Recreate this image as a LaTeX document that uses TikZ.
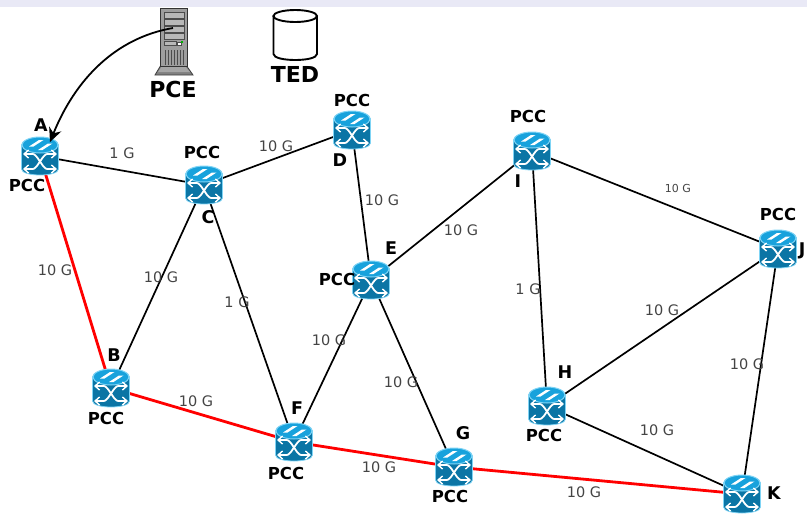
\documentclass[tikz,border=0pt]{standalone}
\usepackage{fontspec}
\setmainfont{DejaVu Sans}
\usetikzlibrary{arrows.meta}
\definecolor{rbody}{HTML}{0B75A5}
\definecolor{rtop}{HTML}{18A2DC}
\definecolor{rrim}{HTML}{7FD4F5}
\definecolor{band}{HTML}{E9E9F6}
\definecolor{lbl}{HTML}{444444}
\tikzset{
 anchorbox/.style={inner sep=0pt,minimum width=37pt,minimum height=39pt},
 link/.style={draw=black,line width=1.7pt},
 redlink/.style={draw=red,line width=2.8pt},
 speed/.style={text=lbl,font=\fontsize{14.5}{14}\selectfont,inner sep=0pt},
 smallspeed/.style={text=lbl,font=\fontsize{11}{11}\selectfont,inner sep=0pt},
 tag/.style={text=black,font=\fontsize{16.5}{16}\selectfont\bfseries,inner sep=0pt},
 letter/.style={text=black,font=\fontsize{17.5}{16}\selectfont\bfseries,inner sep=0pt},
 bigtag/.style={text=black,font=\fontsize{22}{20}\selectfont\bfseries,inner sep=0pt},
 xarrow/.style={draw=white,line width=1.6pt,-{Straight Barb[length=4.5pt,width=8pt,line width=1.4pt]}},
 router/.pic={
  \fill[rbody,draw=rrim,line width=.8pt] (-18.5,-11) -- (-18.5,13) .. controls (-18.5,21) and (18.5,21) .. (18.5,13) -- (18.5,-11) .. controls (18.5,-20) and (-18.5,-20) .. cycle;
  \fill[rtop,draw=rrim,line width=1pt] (0,-11) ellipse [x radius=18,y radius=8];
  \fill[white] (-11,-9.5) -- (-1,-16) -- (3.5,-16) -- (-6.5,-9.5) -- cycle;
  \fill[white] (-2,-6) -- (8,-12.5) -- (12.5,-12.5) -- (2.5,-6) -- cycle;
  \draw[draw=white,line width=1.8pt] (-7,-2) .. controls (-3,-2) and (3,13) .. (7,13);
  \draw[draw=white,line width=1.8pt] (-7,13) .. controls (-3,13) and (3,-2) .. (7,-2);
  \draw[xarrow] (-7,-2) -- (-17,-2);
  \draw[xarrow] (7,-2) -- (17,-2);
  \draw[xarrow] (-7,13) -- (-17,13);
  \draw[xarrow] (7,13) -- (17,13);
 }
}
\begin{document}
\begin{tikzpicture}[x=1pt,y=-1pt]
\useasboundingbox (0,0) rectangle (807,515);
\fill[band] (0,0) rectangle (807,7);
\node[anchorbox] (A) at (40,156) {};
\node[anchorbox] (B) at (111,388) {};
\node[anchorbox] (C) at (204,185) {};
\node[anchorbox] (D) at (352,130) {};
\node[anchorbox] (E) at (371,280) {};
\node[anchorbox] (F) at (294,442) {};
\node[anchorbox] (G) at (454,467) {};
\node[anchorbox] (H) at (547,406) {};
\node[anchorbox] (I) at (532,151) {};
\node[anchorbox] (J) at (778,249) {};
\node[anchorbox] (K) at (742,494) {};
% links
\draw[link] (A.center) -- (C.center);
\draw[link] (B.center) -- (C.center);
\draw[link] (C.center) -- (D.center);
\draw[link] (C.center) -- (F.center);
\draw[link] (D.center) -- (E.center);
\draw[link] (E.center) -- (I.center);
\draw[link] (E.center) -- (F.center);
\draw[link] (E.center) -- (G.center);
\draw[link] (I.center) -- (H.center);
\draw[link] (I.center) -- (J.center);
\draw[link] (J.center) -- (H.center);
\draw[link] (J.center) -- (K.center);
\draw[link] (H.center) -- (K.center);
\draw[redlink] (A.center) -- (B.center);
\draw[redlink] (B.center) -- (F.center);
\draw[redlink] (F.center) -- (G.center);
\draw[redlink] (G.center) -- (K.center);
\foreach \n in {A,B,C,D,E,F,G,H,I,J,K} \pic at (\n) {router};
% server
\node[inner sep=0pt,minimum width=28pt,minimum height=66pt] (srv) at (173,41) {};
\fill[black!50,draw=black!75,line width=.8pt] (155,75) -- (161,65) -- (186,65) -- (193,75) -- cycle;
\fill[black!35] (158,72) -- (162,66) -- (185,66) -- (190,72) -- cycle;
\fill[black!38,draw=black!80,line width=1pt] (160,8) rectangle (187,66);
\foreach \ya/\yb in {12/18,19/25,26/32,33/39}
  \fill[black!28,draw=black!70,line width=.7pt] (164,\ya) rectangle (184,\yb);
\fill[black!28,draw=black!70,line width=.7pt] (164,41) rectangle (176,45);
\fill[white,draw=black!70,line width=.5pt] (177,42) rectangle (181,45);
\fill[green!70!black] (181,41) rectangle (183,43);
\foreach \x in {165,168,171,174,177,180,183}
  \draw[black!70,line width=.8pt] (\x,50) -- (\x,65);
% TED
\draw[black,line width=1.9pt] (273.5,16) -- (273.5,54) .. controls (273.5,62) and (317,62) .. (317,54) -- (317,16);
\draw[black,line width=1.9pt] (295.2,16) ellipse [x radius=21.8,y radius=6];
\node[bigtag] (pce) at (173,89) {PCE};
\node[bigtag] (ted) at (295,74) {TED};
% PCE arrow
\coordinate (pcestart) at (173,28);
\draw[black,line width=1.8pt,-{Stealth[length=14pt,width=13pt]}] (pcestart) .. controls (115,38) and (75,80) .. (50,142);
% tags
\node[letter] (ta) at (41,125) {A};
\node[letter] (tb) at (114,355) {B};
\node[letter] (tc) at (208,217) {C};
\node[letter] (td) at (340,160) {D};
\node[letter] (te) at (391,248) {E};
\node[letter] (tf) at (297,408) {F};
\node[letter] (tg) at (463,433) {G};
\node[letter] (th) at (565,372) {H};
\node[letter] (ti) at (518,181) {I};
\node[letter] (tj) at (802,251) {J};
\node[letter] (tk) at (774,493) {K};
\node[tag] (pa) at (27,185) {PCC};
\node[tag] (pb) at (106,418) {PCC};
\node[tag] (pc) at (202,152) {PCC};
\node[tag] (pd) at (352,100) {PCC};
\node[tag] (pe) at (337,279) {PCC};
\node[tag] (pf) at (286,473) {PCC};
\node[tag] (pg) at (450,496) {PCC};
\node[tag] (ph) at (544,435) {PCC};
\node[tag] (pi) at (528,116) {PCC};
\node[tag] (pj) at (778,214) {PCC};
% speeds
\node[speed] (s1) at (122,153) {1 G};
\node[speed] (s2) at (276,146) {10 G};
\node[speed] (s3) at (382,200) {10 G};
\node[speed] (s4) at (461,230) {10 G};
\node[smallspeed] (s5) at (678,188) {10 G};
\node[speed] (s6) at (528,289) {1 G};
\node[speed] (s7) at (662,310) {10 G};
\node[speed] (s8) at (747,364) {10 G};
\node[speed] (s9) at (657,430) {10 G};
\node[speed] (s10) at (584,492) {10 G};
\node[speed] (s11) at (379,467) {10 G};
\node[speed] (s12) at (196,401) {10 G};
\node[speed] (s13) at (55,270) {10 G};
\node[speed] (s14) at (161,277) {10 G};
\node[speed] (s15) at (237,302) {1 G};
\node[speed] (s16) at (329,340) {10 G};
\node[speed] (s17) at (401,382) {10 G};
\end{tikzpicture}
\end{document}
